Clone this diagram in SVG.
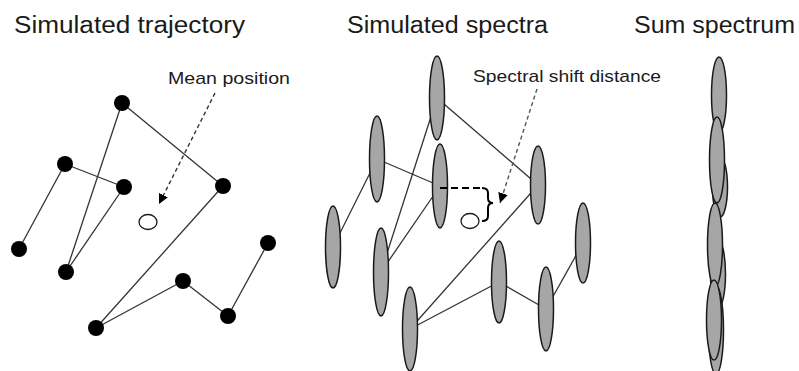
<svg xmlns="http://www.w3.org/2000/svg" width="799" height="371" viewBox="0 0 799 371">
<style>
.title{font-family:"Liberation Sans",Arial,sans-serif;font-size:23px;fill:#1a1a1a}
.label{font-family:"Liberation Sans",Arial,sans-serif;font-size:17px;fill:#1a1a1a}
.edge{stroke:#333;stroke-width:1.3;fill:none}
.dot{fill:#000}
.spec{fill:#a6a6a6;stroke:#1a1a1a;stroke-width:1.5}
.mean{fill:#fff;stroke:#1a1a1a;stroke-width:1.3}
.pointer{fill:none;stroke-width:1.4;stroke-dasharray:4,3}
</style>
<defs>
<marker id="arrow" markerUnits="userSpaceOnUse" markerWidth="12" markerHeight="10" refX="10" refY="5" orient="auto">
<path d="M0,0 L10,5 L0,10 Z" fill="#000"/>
</marker>
</defs>
<rect width="799" height="371" fill="#fff"/>
<g id="titles">
<text class="title" x="14" y="33" textLength="231" lengthAdjust="spacingAndGlyphs">Simulated trajectory</text>
<text class="title" x="347" y="33" textLength="201" lengthAdjust="spacingAndGlyphs">Simulated spectra</text>
<text class="title" x="634" y="33" textLength="161" lengthAdjust="spacingAndGlyphs">Sum spectrum</text>
</g>
<g id="connectors">
<g id="trajectory-edges" class="edge">
<line x1="19" y1="249" x2="65" y2="164"/>
<line x1="65" y1="164" x2="124" y2="187"/>
<line x1="124" y1="187" x2="66" y2="272"/>
<line x1="66" y1="272" x2="122" y2="103"/>
<line x1="122" y1="103" x2="223" y2="186"/>
<line x1="223" y1="186" x2="96" y2="328"/>
<line x1="96" y1="328" x2="183" y2="281"/>
<line x1="183" y1="281" x2="228" y2="316"/>
<line x1="228" y1="316" x2="268" y2="243"/>
</g>
<g id="spectra-edges" class="edge">
<line x1="333" y1="247" x2="377" y2="159"/>
<line x1="377" y1="159" x2="440" y2="186"/>
<line x1="440" y1="186" x2="381" y2="272"/>
<line x1="381" y1="272" x2="437" y2="98"/>
<line x1="437" y1="98" x2="538" y2="185"/>
<line x1="538" y1="185" x2="410" y2="329"/>
<line x1="410" y1="329" x2="499" y2="282"/>
<line x1="499" y1="282" x2="546" y2="309"/>
<line x1="546" y1="309" x2="583" y2="243"/>
</g>
</g>
<g id="trajectory">
<circle id="tA" class="dot" cx="122" cy="103" r="8"/>
<circle id="tB" class="dot" cx="65" cy="164" r="8"/>
<circle id="tC" class="dot" cx="124" cy="187" r="8"/>
<circle id="tD" class="dot" cx="223" cy="186" r="8"/>
<circle id="tE" class="dot" cx="19" cy="249" r="8"/>
<circle id="tF" class="dot" cx="66" cy="272" r="8"/>
<circle id="tG" class="dot" cx="183" cy="281" r="8"/>
<circle id="tH" class="dot" cx="268" cy="243" r="8"/>
<circle id="tI" class="dot" cx="96" cy="328" r="8"/>
<circle id="tJ" class="dot" cx="228" cy="316" r="8"/>
<ellipse id="tMean" class="mean" cx="148" cy="222" rx="9" ry="7.5"/>
</g>
<g id="spectra">
<ellipse id="sA" class="spec" cx="437" cy="98" rx="7.5" ry="42"/>
<ellipse id="sB" class="spec" cx="377" cy="159" rx="7.5" ry="43"/>
<ellipse id="sC" class="spec" cx="440" cy="186" rx="7.5" ry="42"/>
<ellipse id="sD" class="spec" cx="538" cy="185" rx="7.5" ry="39"/>
<ellipse id="sE" class="spec" cx="333" cy="247" rx="7.5" ry="41"/>
<ellipse id="sF" class="spec" cx="381" cy="272" rx="7.5" ry="44"/>
<ellipse id="sG" class="spec" cx="499" cy="282" rx="7.5" ry="41"/>
<ellipse id="sH" class="spec" cx="583" cy="243" rx="7.5" ry="40"/>
<ellipse id="sJ" class="spec" cx="546" cy="309" rx="7.5" ry="42"/>
<ellipse id="sI" class="spec" cx="410" cy="329" rx="7.5" ry="42"/>
<ellipse id="sMean" class="mean" cx="470" cy="221" rx="9" ry="7.5"/>
</g>
<g id="sum-spectrum">
<ellipse class="spec" cx="719" cy="95" rx="7.5" ry="38"/>
<ellipse class="spec" cx="720" cy="187" rx="7.5" ry="30"/>
<ellipse class="spec" cx="718" cy="274" rx="7.5" ry="34"/>
<ellipse class="spec" cx="716" cy="330" rx="7.5" ry="44"/>
<ellipse class="spec" cx="717" cy="160" rx="7.5" ry="43"/>
<ellipse class="spec" cx="715" cy="245" rx="7.5" ry="42"/>
<ellipse class="spec" cx="714" cy="320" rx="7.5" ry="40"/>
</g>
<g id="mean-label">
<text class="label" x="168" y="84" textLength="122" lengthAdjust="spacingAndGlyphs">Mean position</text>
<line class="pointer" stroke="#333" x1="215" y1="93" x2="159" y2="204" marker-end="url(#arrow)"/>
</g>
<g id="shift-label">
<text class="label" x="473" y="82" textLength="188" lengthAdjust="spacingAndGlyphs">Spectral shift distance</text>
<line class="pointer" stroke="#555" x1="537" y1="89" x2="500" y2="203" marker-end="url(#arrow)"/>
<line x1="440" y1="188" x2="483" y2="188" stroke="#000" stroke-width="2" stroke-dasharray="7,4"/>
<path d="M482,188 Q488,188 488,193 L488,198 Q488,203 493,203 Q488,203 488,208 L488,216 Q488,221 482,221" fill="none" stroke="#000" stroke-width="2"/>
</g>
</svg>
